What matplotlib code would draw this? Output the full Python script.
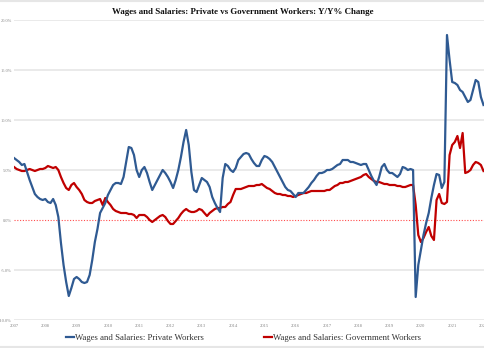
import numpy as np
import matplotlib
matplotlib.use('Agg')
import matplotlib.pyplot as plt
from matplotlib.lines import Line2D

# Monthly Y/Y % change, Jan 2007 onwards
start_year = 2007
private = [6.2, 6.0, 5.8, 5.5, 5.6, 4.8, 4.0, 3.3, 2.6, 2.3, 2.1, 2.0,
           2.1, 1.8, 1.7, 2.1, 1.5, 0.3, -2.3, -4.5, -6.2, -7.6, -6.8, -5.9,
           -5.7, -5.9, -6.2, -6.3, -6.2, -5.5, -4.0, -2.2, -0.9, 0.7, 1.2, 1.7,
           2.5, 3.0, 3.5, 3.7, 3.7, 3.6, 4.3, 5.8, 7.3, 7.2, 6.5, 5.0,
           4.3, 5.0, 5.3, 4.7, 3.8, 3.0, 3.5, 4.0, 4.5, 5.0, 4.7, 4.3,
           3.8, 3.2, 4.0, 5.0, 6.3, 7.8, 9.0, 7.5, 4.8, 3.0, 2.8, 3.5,
           4.2, 4.0, 3.8, 3.3, 2.3, 1.7, 1.2, 0.8, 4.2, 5.6, 5.4, 5.0,
           4.8, 5.2, 6.0, 6.3, 6.6, 6.7, 6.6, 6.1, 5.7, 5.4, 5.4, 6.0,
           6.4, 6.3, 6.1, 5.8, 5.3, 4.8, 4.3, 3.8, 3.3, 3.0, 2.9, 2.6,
           2.3, 2.7, 2.7, 2.7, 3.0, 3.3, 3.7, 4.0, 4.4, 4.7, 4.7, 4.8,
           5.0, 5.0, 5.1, 5.3, 5.5, 5.6, 6.0, 6.0, 6.0, 5.8, 5.8, 5.7,
           5.6, 5.5, 5.6, 5.6, 5.0, 4.4, 3.9, 3.5, 4.3, 5.3, 5.6, 5.0,
           4.7, 4.7, 4.5, 4.3, 4.6, 5.3, 5.2, 5.0, 5.1, 5.0, -7.7, -4.5,
           -3.0, -1.5, -0.3, 0.7, 2.2, 3.5, 4.6, 4.5, 3.2, 3.8, 18.5, 16.0,
           13.8, 13.7, 13.5, 13.0, 12.8, 12.3, 11.8, 12.0, 13.0, 14.0, 13.8, 12.3,
           11.5]
government = [5.3, 5.1, 5.0, 4.9, 4.9, 5.0, 5.1, 5.0, 4.9, 5.0, 5.1, 5.1,
              5.2, 5.4, 5.3, 5.2, 5.3, 5.0, 4.3, 3.7, 3.2, 3.0, 3.5, 3.7,
              3.3, 3.0, 2.6, 2.0, 1.8, 1.7, 1.7, 1.9, 2.0, 2.1, 1.5, 2.2,
              1.8, 1.5, 1.1, 0.9, 0.8, 0.7, 0.7, 0.7, 0.6, 0.6, 0.5, 0.2,
              0.5, 0.5, 0.5, 0.3, 0.0, -0.2, 0.0, 0.2, 0.4, 0.5, 0.3, -0.1,
              -0.4, -0.4, -0.1, 0.2, 0.6, 0.9, 1.1, 0.9, 0.8, 0.8, 0.9, 1.1,
              1.0, 0.7, 0.4, 0.7, 0.9, 1.1, 1.2, 1.2, 1.3, 1.3, 1.6, 1.8,
              2.5, 3.1, 3.1, 3.1, 3.2, 3.3, 3.4, 3.4, 3.4, 3.5, 3.5, 3.6,
              3.4, 3.2, 3.1, 2.9, 2.7, 2.6, 2.6, 2.5, 2.5, 2.4, 2.4, 2.3,
              2.4, 2.5, 2.6, 2.7, 2.7, 2.8, 2.9, 2.9, 2.9, 2.9, 2.9, 2.9,
              3.0, 3.0, 3.2, 3.4, 3.5, 3.7, 3.7, 3.8, 3.8, 3.9, 4.0, 4.1,
              4.2, 4.3, 4.5, 4.6, 4.3, 4.1, 3.9, 3.8, 3.8, 3.7, 3.6, 3.6,
              3.5, 3.5, 3.5, 3.4, 3.4, 3.3, 3.3, 3.4, 3.5, 3.5, 1.5, -1.5,
              -2.2, -1.8, -1.2, -0.7, -1.6, -2.0, 2.0, 2.6, 1.7, 1.6, 1.8, 6.5,
              7.5, 7.8, 8.4, 7.2, 8.7, 4.7, 4.8, 5.0, 5.5, 5.8, 5.7, 5.5,
              4.9]
year_labels = [str(y) for y in range(2007, 2023)]
y_ticks = [-10, -5, 0, 5, 10, 15, 20]

t = start_year + np.arange(len(private)) / 12.0

blue = '#2f5a92'
red = '#c00000'
serif = ['Liberation Serif', 'DejaVu Serif']

fig = plt.figure(figsize=(4.85, 3.48), dpi=100)
ax = fig.add_axes([14/485, 28/348, 471/485, 300/348])

for yt in y_ticks:
    if yt != 0:
        ax.axhline(yt, color='#e8e8e8', lw=1.3, zorder=0)
ax.axhline(0, color='#ff4d4d', lw=0.8, ls=(0, (1, 1.5)), zorder=1)

ax.plot(t, private, color=blue, lw=1.6, label='Wages and Salaries: Private Workers', zorder=3)
ax.plot(t, government, color=red, lw=1.6, label='Wages and Salaries: Government Workers', zorder=2)

ax.set_xlim(2007, 2007 + 471/31.3)
ax.set_ylim(-10, 20)
ax.set_xticks(range(2007, 2023))
ax.set_xticklabels(year_labels, fontsize=3.3, color='#888888', family=serif)
ax.set_yticks(y_ticks)
ax.set_yticklabels(['{:.1f}%'.format(v) for v in y_ticks], fontsize=3.2, color='#888888', family=serif)
ax.tick_params(axis='y', length=0, pad=1.5)
ax.tick_params(axis='x', length=0, pad=3)
for s in ax.spines.values():
    s.set_visible(False)

fig.text(0.5, 1 - 12/348, 'Wages and Salaries: Private vs Government Workers: Y/Y% Change',
         ha='center', va='center', fontsize=6.4, fontweight='bold', family=serif, color='#111111')

leg = fig.legend(loc='center', bbox_to_anchor=(0.502, 1 - 338/348), ncol=2, frameon=False,
                 handlelength=1.0, handletextpad=0.1, columnspacing=6.8,
                 prop={'family': serif, 'size': 6.3})
for txt in leg.get_texts():
    txt.set_color('#333333')

# thin frame lines top and bottom
fig.add_artist(Line2D([0, 1], [1 - 1/348, 1 - 1/348], color='#e6e6e6', lw=1.5))
fig.add_artist(Line2D([0, 1], [1/348, 1/348], color='#e6e6e6', lw=1.5))

fig.savefig('out.png', dpi=100)
